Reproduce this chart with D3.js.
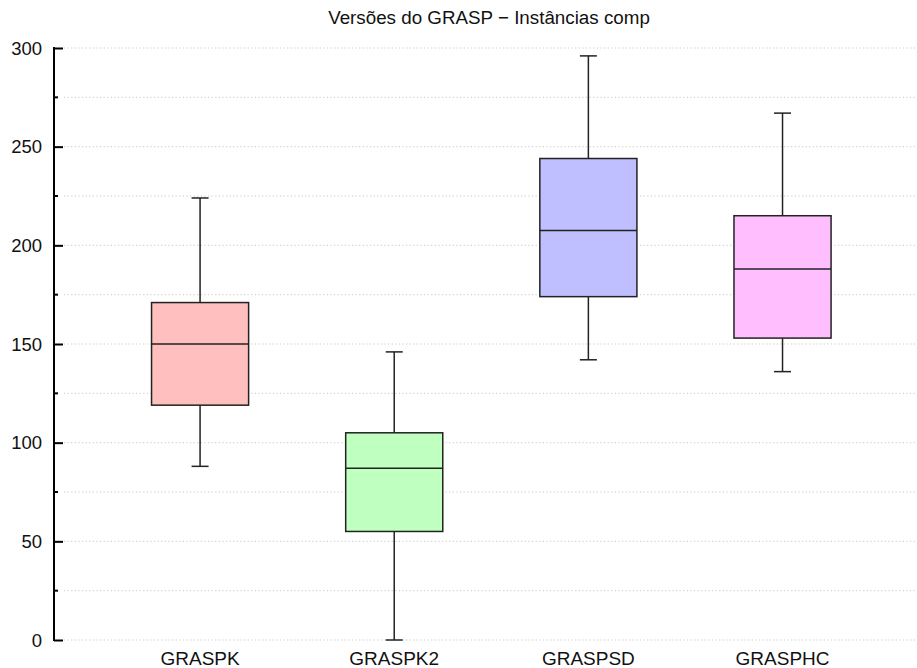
<!DOCTYPE html>
<html><head><meta charset="utf-8">
<script src="https://cdn.jsdelivr.net/npm/d3@7"></script>
<style>body{margin:0;background:#fff}svg{display:block}text{font-family:"Liberation Sans",Arial,Helvetica,sans-serif}</style>
</head><body>
<script>
const title = "Versões do GRASP − Instâncias comp";
const categories = ["GRASPK","GRASPK2","GRASPSD","GRASPHC"];
const whiskerLow  = [88, 0, 142, 136];
const q1          = [119, 55, 174, 153];
const median      = [150, 87, 207.5, 188];
const q3          = [171, 105, 244, 215];
const whiskerHigh = [224, 146, 296, 267];
const colors = ["#ffbfbf","#bfffbf","#bfbfff","#ffbfff"];
const yMajorTicks = [0,50,100,150,200,250,300];
const yMinorTicks = [25,75,125,175,225,275];
const gridTicks = [0,25,50,75,100,125,150,175,200,225,250,275,300];

const W=917,H=668;
const svg=d3.select("body").append("svg").attr("width",W).attr("height",H);
const y=d3.scaleLinear().domain([0,300]).range([640,48]);
const x=d3.scaleBand().domain(categories).range([103,879.6]).paddingInner(0).paddingOuter(0);
const axisX=54;

// grid
svg.append("g").selectAll("line").data(gridTicks).join("line")
  .attr("x1",64).attr("x2",W).attr("y1",d=>y(d)).attr("y2",d=>y(d))
  .attr("stroke","#c8c8c8").attr("stroke-width",1).attr("stroke-dasharray","1.2,2.4");

// axis
const gA=svg.append("g").attr("transform",`translate(${axisX},0)`);
const axis=d3.axisRight(y).tickValues(yMajorTicks).tickSize(9).tickFormat("");
gA.call(axis);
gA.select(".domain").remove();
gA.selectAll(".tick line").attr("stroke","#000").attr("stroke-width",2);
gA.append("g").selectAll("line").data(yMinorTicks).join("line")
  .attr("x1",0).attr("x2",4).attr("y1",d=>y(d)).attr("y2",d=>y(d))
  .attr("stroke","#000").attr("stroke-width",2);
gA.append("line").attr("x1",0).attr("x2",0).attr("y1",y(300)-1).attr("y2",y(0)+1)
  .attr("stroke","#000").attr("stroke-width",2);
svg.append("g").selectAll("text").data(yMajorTicks).join("text")
  .attr("x",42).attr("y",d=>y(d)).attr("dy","0.36em").attr("text-anchor","end")
  .attr("font-size",18.5).attr("fill","#111").text(d=>d);

// boxes
const bw=x.bandwidth()*0.5;
const capW=17;
const data=categories.map((c,i)=>({c,i,lo:whiskerLow[i],q1:q1[i],med:median[i],q3:q3[i],hi:whiskerHigh[i]}));
const g=svg.append("g").selectAll("g").data(data).join("g");
const cx=d=>x(d.c)+x.bandwidth()/2;
const stroke="#222";
g.append("line").attr("x1",cx).attr("x2",cx).attr("y1",d=>y(d.q3)).attr("y2",d=>y(d.hi))
  .attr("stroke",stroke).attr("stroke-width",1.5);
g.append("line").attr("x1",cx).attr("x2",cx).attr("y1",d=>y(d.q1)).attr("y2",d=>y(d.lo))
  .attr("stroke",stroke).attr("stroke-width",1.5);
g.append("line").attr("x1",d=>cx(d)-capW/2).attr("x2",d=>cx(d)+capW/2).attr("y1",d=>y(d.hi)).attr("y2",d=>y(d.hi))
  .attr("stroke",stroke).attr("stroke-width",1.5);
g.append("line").attr("x1",d=>cx(d)-capW/2).attr("x2",d=>cx(d)+capW/2).attr("y1",d=>y(d.lo)).attr("y2",d=>y(d.lo))
  .attr("stroke",stroke).attr("stroke-width",1.5);
g.append("rect").attr("x",d=>cx(d)-bw/2).attr("width",bw)
  .attr("y",d=>y(d.q3)).attr("height",d=>y(d.q1)-y(d.q3))
  .attr("fill",d=>colors[d.i]).attr("stroke",stroke).attr("stroke-width",1.5);
g.append("line").attr("x1",d=>cx(d)-bw/2).attr("x2",d=>cx(d)+bw/2).attr("y1",d=>y(d.med)).attr("y2",d=>y(d.med))
  .attr("stroke",stroke).attr("stroke-width",1.5);

// x labels
svg.append("g").selectAll("text").data(categories).join("text")
  .attr("x",d=>x(d)+x.bandwidth()/2).attr("y",665).attr("text-anchor","middle")
  .attr("font-size",19).attr("fill","#111").text(d=>d);

// title
svg.append("text").attr("x",489).attr("y",24).attr("text-anchor","middle")
  .attr("font-size",18.8).attr("fill","#111").text(title);
</script>
</body></html>
